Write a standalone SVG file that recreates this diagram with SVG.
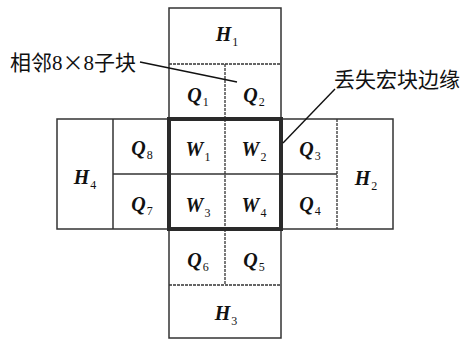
<svg xmlns="http://www.w3.org/2000/svg" width="464" height="340" viewBox="0 0 464 340">
<style>
.m{font-family:"Liberation Serif",serif;font-size:20px;font-weight:bold;font-style:italic;fill:#111;text-anchor:middle}
.s{font-size:12px;font-weight:normal;font-style:normal}
.solid{stroke:#333;stroke-width:1.5;fill:none}
.dash{stroke:#333;stroke-width:1.3;fill:none;stroke-dasharray:3 1}
.thick{stroke:#2a2a2a;stroke-width:4;fill:none}
.lead{stroke:#111;stroke-width:1.4;fill:none}
.cjk{font-family:"Noto Sans CJK SC",sans-serif;font-size:21px;fill:#111}
.d{font-family:"Liberation Serif",serif}
</style>
<rect width="464" height="340" fill="#fff"/>
<g id="grid">
<rect class="solid" x="169" y="8" width="112" height="330"/>
<rect class="solid" x="57" y="119" width="336" height="110"/>
<line class="solid" x1="113" y1="119" x2="113" y2="229"/>
<line class="solid" x1="113" y1="174" x2="169" y2="174"/>
<line class="solid" x1="169" y1="174" x2="281" y2="174"/>
<line class="solid" x1="281" y1="174" x2="337" y2="174"/>
<line class="dash" x1="169" y1="64" x2="281" y2="64"/>
<line class="dash" x1="225" y1="64" x2="225" y2="119"/>
<line class="dash" x1="225" y1="119" x2="225" y2="229"/>
<line class="dash" x1="337" y1="119" x2="337" y2="229"/>
<line class="dash" x1="225" y1="229" x2="225" y2="285"/>
<line class="dash" x1="169" y1="285" x2="281" y2="285"/>
<rect class="thick" x="169" y="119" width="112" height="110"/>
</g>
<g id="H1"><text class="m" x="227" y="41">H<tspan class="s" dx="1" dy="5">1</tspan></text></g>
<g id="Q1"><text class="m" x="198" y="102">Q<tspan class="s" dx="1" dy="4">1</tspan></text></g>
<g id="Q2"><text class="m" x="254" y="102">Q<tspan class="s" dx="1" dy="4">2</tspan></text></g>
<g id="H4"><text class="m" x="85" y="184">H<tspan class="s" dx="1" dy="5">4</tspan></text></g>
<g id="Q8"><text class="m" x="142" y="155">Q<tspan class="s" dx="1" dy="4">8</tspan></text></g>
<g id="W1"><text class="m" x="198" y="156">W<tspan class="s" dx="1" dy="5">1</tspan></text></g>
<g id="W2"><text class="m" x="254" y="156">W<tspan class="s" dx="1" dy="5">2</tspan></text></g>
<g id="Q3"><text class="m" x="310" y="156">Q<tspan class="s" dx="1" dy="4">3</tspan></text></g>
<g id="H2"><text class="m" x="366" y="185">H<tspan class="s" dx="1" dy="5">2</tspan></text></g>
<g id="Q7"><text class="m" x="142" y="211">Q<tspan class="s" dx="1" dy="4">7</tspan></text></g>
<g id="W3"><text class="m" x="198" y="212">W<tspan class="s" dx="1" dy="5">3</tspan></text></g>
<g id="W4"><text class="m" x="254" y="212">W<tspan class="s" dx="1" dy="5">4</tspan></text></g>
<g id="Q4"><text class="m" x="310" y="211">Q<tspan class="s" dx="1" dy="4">4</tspan></text></g>
<g id="Q6"><text class="m" x="198" y="267">Q<tspan class="s" dx="1" dy="4">6</tspan></text></g>
<g id="Q5"><text class="m" x="254" y="267">Q<tspan class="s" dx="1" dy="4">5</tspan></text></g>
<g id="H3"><text class="m" x="226" y="320">H<tspan class="s" dx="1" dy="5">3</tspan></text></g>
<g id="label-neighbor"><text class="cjk" x="10" y="70">相邻<tspan class="d">8</tspan>×<tspan class="d">8</tspan>子块</text></g>
<g id="label-edge"><text class="cjk" x="334" y="87">丢失宏块边缘</text></g>
<g id="connectors">
<line class="lead" x1="140" y1="62" x2="237" y2="82"/>
<line class="lead" x1="335" y1="89" x2="283" y2="143"/>
</g>
</svg>
